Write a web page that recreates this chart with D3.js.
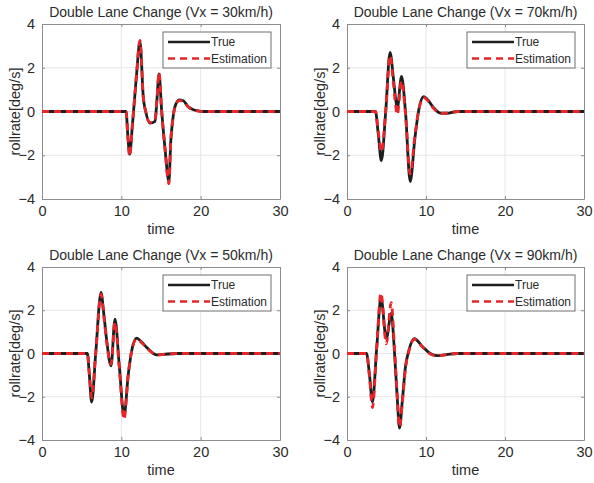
<!DOCTYPE html>
<html>
<head>
<meta charset="utf-8">
<script src="https://cdn.jsdelivr.net/npm/d3@7"></script>
<style>
  body { margin: 0; background: #fff; }
  svg { font-family: "Liberation Sans", Arial, sans-serif; }
</style>
</head>
<body>
<div id="chart"></div>
<script>
// values
const titles = [
  "Double Lane Change (Vx = 30km/h)",
  "Double Lane Change (Vx = 70km/h)",
  "Double Lane Change (Vx = 50km/h)",
  "Double Lane Change (Vx = 90km/h)"
];
const legendLabels = ["True", "Estimation"];
const xTicks = [0, 10, 20, 30];
const yTicks = [-4, -2, 0, 2, 4];

const tA = [0, 10.6, 10.8, 11.05, 11.4, 11.9, 12.35, 12.78, 13.07, 13.6, 14.25, 14.5, 14.75, 15.09, 15.5, 16.0, 16.23, 16.48, 16.77, 17.3, 17.82, 18.4, 19.08, 19.7, 20.3, 30];
const trueA = [0, 0, -1.0, -1.95, -0.6, 1.6, 3.2, 0.6, 0, -0.53, -0.45, 0.6, 1.72, 0, -1.67, -3.2, -1.37, -0.38, 0.23, 0.53, 0.49, 0.23, 0.08, 0.03, 0, 0];
const estA = [0, 0, -1.05, -2.05, -0.6, 1.65, 3.25, 0.6, 0, -0.5, -0.42, 0.6, 1.78, 0, -1.7, -3.3, -1.35, -0.38, 0.22, 0.5, 0.47, 0.22, 0.07, 0.02, 0, 0];

const tB = [0, 3.6, 3.95, 4.35, 4.9, 5.45, 5.85, 6.15, 6.36, 6.9, 7.4, 8.0, 8.6, 9.1, 9.7, 10.3, 10.9, 11.8, 12.6, 14, 30];
const trueB = [0, 0, -1.0, -2.25, 0, 2.7, 1.6, 0.6, 0.15, 1.6, 0, -3.2, -1.2, 0.1, 0.68, 0.5, 0.2, -0.07, -0.08, 0, 0];
const estB = [0, 0, -0.9, -1.85, 0, 2.55, 1.4, 0.3, -0.15, 1.4, -0.1, -2.85, -1.1, 0.1, 0.64, 0.46, 0.17, -0.08, -0.07, 0, 0];

const tC = [0, 5.72, 5.95, 6.26, 6.77, 7.44, 7.8, 8.16, 8.7, 9.2, 9.75, 10.34, 10.88, 11.3, 11.94, 12.5, 13.2, 14.46, 15.3, 17, 30];
const trueC = [0, 0, -0.9, -2.25, 0, 2.82, 1.8, 0.59, -0.57, 1.59, -0.6, -2.88, -0.95, 0.12, 0.71, 0.55, 0.28, -0.06, -0.04, 0, 0];
const estC = [0, 0, -0.85, -2.05, 0, 2.75, 1.7, 0.5, -0.5, 1.45, -0.7, -3.05, -0.95, 0.12, 0.68, 0.52, 0.26, -0.06, -0.04, 0, 0];

const tD = [0, 2.47, 2.85, 3.22, 3.75, 4.3, 4.97, 5.6, 6.02, 6.35, 6.65, 7.0, 7.4, 7.8, 8.53, 9.5, 10.54, 11.38, 12.6, 14, 30];
const trueD = [0, 0, -1.0, -2.24, 0.2, 2.59, 0.69, 1.85, 0, -2.0, -3.45, -2.2, -0.62, 0.1, 0.69, 0.34, 0, -0.1, -0.05, 0, 0];
const estD = [0, 0, -1.1, -2.5, 0.2, 2.8, 0.45, 2.35, 0.2, -1.9, -3.4, -2.3, -0.7, 0.05, 0.66, 0.32, -0.02, -0.1, -0.05, 0, 0];

const series = [
  { t: tA, tr: trueA, est: estA },
  { t: tB, tr: trueB, est: estB },
  { t: tC, tr: trueC, est: estC },
  { t: tD, tr: trueD, est: estD }
];

// panel boxes (left, right, top, bottom) in px
const boxes = [
  [42, 280, 24, 199],
  [347, 584, 24, 199],
  [42, 280, 267, 440],
  [347, 584, 267, 440]
];

const width = 594, height = 483;
const textColor = "#2b2b2b";
const axisColor = "#8c8c8c";

const svg = d3.select("#chart").append("svg")
  .attr("width", width)
  .attr("height", height);

boxes.forEach(([l, r, t, b], i) => {
  const x = d3.scaleLinear().domain([0, 30]).range([l, r]);
  const y = d3.scaleLinear().domain([-4, 4]).range([b, t]);
  const g = svg.append("g");

  // grid
  g.append("g").selectAll("line")
    .data(xTicks.slice(1, -1))
    .enter().append("line")
    .attr("x1", d => x(d)).attr("x2", d => x(d))
    .attr("y1", t).attr("y2", b)
    .attr("stroke", "#e6e6e6");
  g.append("g").selectAll("line")
    .data(yTicks.slice(1, -1))
    .enter().append("line")
    .attr("x1", l).attr("x2", r)
    .attr("y1", d => y(d)).attr("y2", d => y(d))
    .attr("stroke", "#e6e6e6");

  // axes, ticks pointing in
  const styleAxis = sel => {
    sel.select(".domain").attr("stroke", axisColor);
    sel.selectAll(".tick line").attr("stroke", axisColor);
    sel.selectAll(".tick text").attr("fill", textColor).style("font-size", "14.5px");
  };
  g.append("g").attr("transform", `translate(0,${b})`)
    .call(d3.axisBottom(x).tickValues(xTicks).tickSize(-3).tickSizeOuter(0).tickPadding(7))
    .call(styleAxis);
  g.append("g").attr("transform", `translate(${l},0)`)
    .call(d3.axisLeft(y).tickValues(yTicks).tickSize(-3).tickSizeOuter(0).tickPadding(7))
    .call(styleAxis);
  g.append("g").attr("transform", `translate(0,${t})`)
    .call(d3.axisTop(x).tickValues(xTicks).tickSize(-3).tickSizeOuter(0).tickFormat(""))
    .call(styleAxis);
  g.append("g").attr("transform", `translate(${r},0)`)
    .call(d3.axisRight(y).tickValues(yTicks).tickSize(-3).tickSizeOuter(0).tickFormat(""))
    .call(styleAxis);

  // curves
  const s = series[i];
  const line = vals => d3.line()
    .x((d, k) => x(s.t[k]))
    .y(d => y(d))
    .curve(d3.curveMonotoneX)(vals);

  g.append("path")
    .attr("d", line(s.tr))
    .attr("fill", "none")
    .attr("stroke", "#1e1e1e")
    .attr("stroke-width", 2.8);
  g.append("path")
    .attr("d", line(s.est))
    .attr("fill", "none")
    .attr("stroke", "#e8262a")
    .attr("stroke-width", 2.8)
    .attr("stroke-dasharray", "7,5");

  // title and labels
  g.append("text")
    .attr("x", (l + r) / 2).attr("y", t - 7)
    .attr("text-anchor", "middle")
    .attr("fill", textColor)
    .style("font-size", "14px")
    .text(titles[i]);
  g.append("text")
    .attr("x", (l + r) / 2).attr("y", b + 35)
    .attr("text-anchor", "middle")
    .attr("fill", textColor)
    .style("font-size", "14.5px")
    .text("time");
  g.append("text")
    .attr("transform", `translate(${l - 22},${(t + b) / 2}) rotate(-90)`)
    .attr("text-anchor", "middle")
    .attr("fill", textColor)
    .style("font-size", "14.5px")
    .text("rollrate[deg/s]");

  // legend
  const lx = r - 117, ly = t + 8;
  const lg = g.append("g").attr("transform", `translate(${lx},${ly})`);
  lg.append("rect")
    .attr("width", 108).attr("height", 36)
    .attr("fill", "#fff")
    .attr("stroke", "#6e6e6e");
  legendLabels.forEach((lab, j) => {
    const yy = 10 + j * 16.5;
    lg.append("line")
      .attr("x1", 5).attr("x2", 47)
      .attr("y1", yy).attr("y2", yy)
      .attr("stroke", j === 0 ? "#1e1e1e" : "#e8262a")
      .attr("stroke-width", 2.4)
      .attr("stroke-dasharray", j === 0 ? null : "7,5");
    lg.append("text")
      .attr("x", 48).attr("y", yy)
      .attr("dy", "0.35em")
      .attr("fill", textColor)
      .style("font-size", "12px")
      .text(lab);
  });
});
</script>
</body>
</html>
